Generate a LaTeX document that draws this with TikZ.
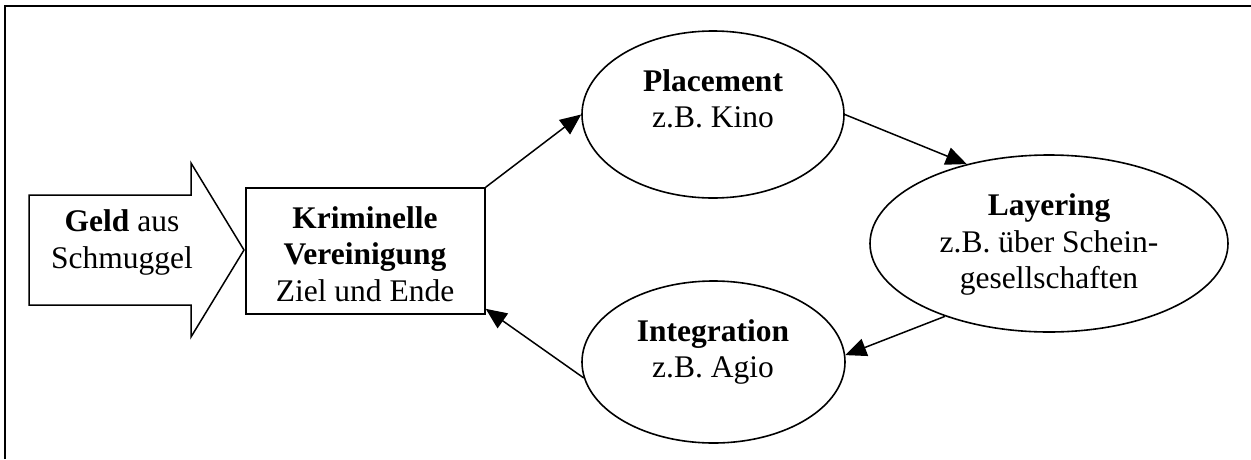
\documentclass[tikz,border=0pt]{standalone}
\usepackage{fontspec}
\setmainfont{Liberation Serif}
\usetikzlibrary{arrows.meta,shapes.geometric}
\begin{document}
\begin{tikzpicture}[x=1pt,y=-1pt,
  txt/.style={font=\fontsize{31.5}{36.5}\selectfont, align=center, inner sep=0pt, anchor=north},
  shapeline/.style={draw, line width=1.6pt},
  ell/.style={shapeline, ellipse, inner sep=0pt},
  conn/.style={line width=1.5pt, -{Triangle[length=21pt,width=18pt]}}]
\useasboundingbox (0,0) rectangle (1251,459);
% frame
\draw[line width=2pt] (5,459) -- (5,6) -- (1251,6);
% big arrow
\coordinate (a1) at (29,195);
\coordinate (a2) at (191,195);
\coordinate (a3) at (191,163);
\coordinate (atip) at (244,250);
\coordinate (a5) at (191,337);
\coordinate (a6) at (191,305);
\coordinate (a7) at (29,305);
\draw[line width=1.5pt, line join=miter] (a1) -- (a2) -- (a3) -- (atip) -- (a5) -- (a6) -- (a7) -- cycle;
\node[txt] (geldtext) at (122,209.5) {\textbf{Geld} aus\\Schmuggel};
% box
\node[shapeline, rectangle, minimum width=239pt, minimum height=126pt, inner sep=0pt] (box) at (365.4,251) {};
\node[txt] (boxtext) at (365,206.2) {\textbf{Kriminelle}\\\textbf{Vereinigung}\\Ziel und Ende};
% ellipses
\node[ell, minimum width=262pt, minimum height=167pt] (placement) at (713,114.5) {};
\node[txt] (placementtext) at (713,69.2) {\textbf{Placement}\\z.B. Kino};
\node[ell, minimum width=358pt, minimum height=177pt] (layering) at (1049,243.5) {};
\node[txt] (layeringtext) at (1049,193.5) {\textbf{Layering}\\z.B. über Schein-\\gesellschaften};
\node[ell, minimum width=263pt, minimum height=162pt] (integration) at (713.5,362) {};
\node[txt] (integrationtext) at (713,319.2) {\textbf{Integration}\\z.B. Agio};
% connectors
\draw[conn] (box.north east) -- (placement.west);
\draw[conn] (placement.east) -- (layering.136);
\draw[conn] (layering.215) -- (integration.3);
\draw[conn] (integration.187) -- ([yshift=6pt]box.south east);
\end{tikzpicture}
\end{document}
